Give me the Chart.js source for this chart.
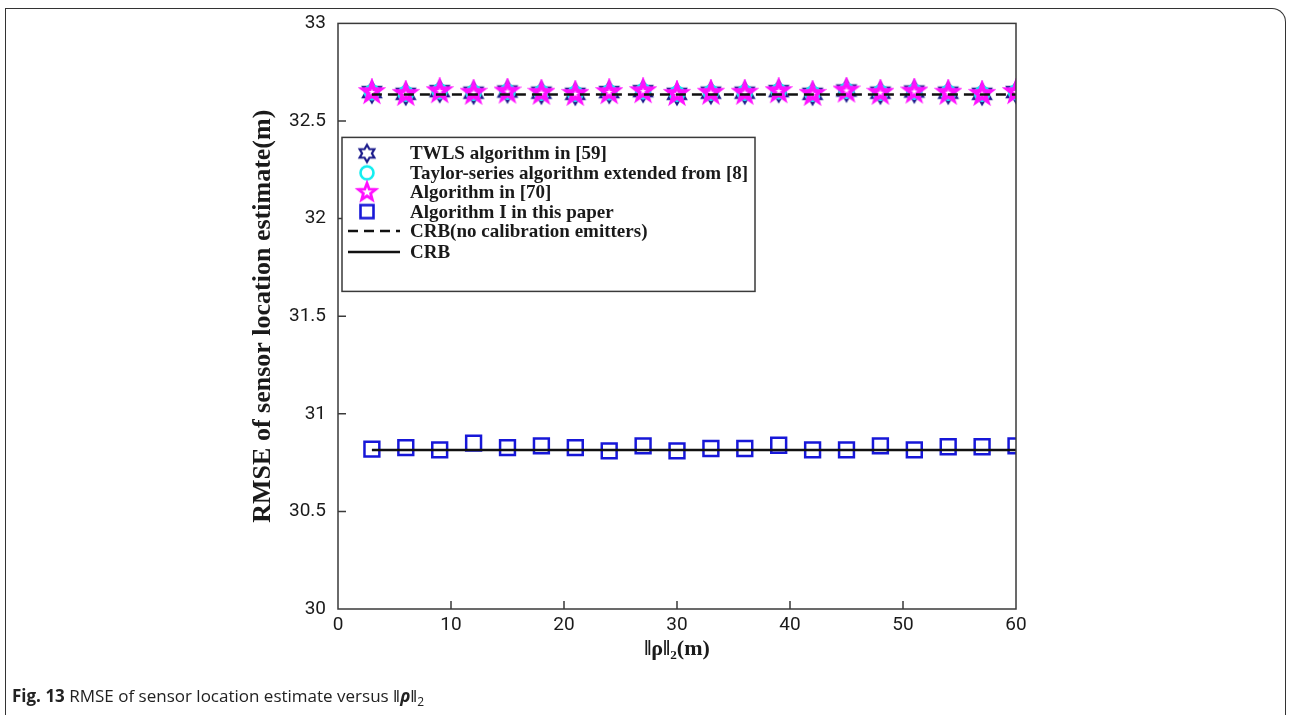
<!DOCTYPE html>
<html>
<head>
<meta charset="utf-8">
<script src="https://cdn.jsdelivr.net/npm/chart.js@4/dist/chart.umd.min.js"></script>
<style>
  html, body { margin: 0; padding: 0; background: #fff; }
  body { width: 1290px; height: 715px; position: relative; overflow: hidden; }
  #frame {
    position: absolute; left: 5px; top: 8px; width: 1281px; height: 720px;
    border: 1.5px solid #333; border-bottom: none;
    border-radius: 0 14px 0 14px; box-sizing: border-box;
  }
  #plot { position: absolute; left: 0; top: 0; }
  #caption {
    position: absolute; left: 12px; top: 684px;
    font-family: "Open Sans", sans-serif; font-size: 17px; color: #222;
  }
  #caption sub { font-size: 12px; }
</style>
</head>
<body>
<div id="frame"></div>
<canvas id="plot" width="1290" height="715"></canvas>
<div id="caption"><b>Fig. 13</b> RMSE of sensor location estimate versus &#8214;<b><i>&rho;</i></b>&#8214;<sub>2</sub></div>
<script>
// valores
const rhoNorm = [3, 6, 9, 12, 15, 18, 21, 24, 27, 30, 33, 36, 39, 42, 45, 48, 51, 54, 57, 60];
const twlsRmse = [32.648, 32.639, 32.653, 32.645, 32.651, 32.645, 32.639, 32.648, 32.653, 32.639,
                  32.645, 32.645, 32.653, 32.639, 32.656, 32.645, 32.651, 32.645, 32.639, 32.648];
const taylorRmse = [32.647, 32.640, 32.652, 32.645, 32.650, 32.645, 32.640, 32.647, 32.652, 32.640,
                    32.645, 32.645, 32.652, 32.640, 32.655, 32.645, 32.650, 32.645, 32.640, 32.647];
const alg70Rmse = [32.648, 32.639, 32.653, 32.645, 32.651, 32.645, 32.639, 32.648, 32.653, 32.639,
                   32.645, 32.645, 32.653, 32.639, 32.656, 32.645, 32.651, 32.645, 32.639, 32.648];
const algIRmse = [30.819, 30.827, 30.815, 30.850, 30.827, 30.836, 30.827, 30.810, 30.836, 30.810,
                  30.822, 30.822, 30.839, 30.815, 30.815, 30.836, 30.815, 30.831, 30.831, 30.836];
const crbNoCal = [32.636, 32.636, 32.636, 32.636, 32.636, 32.636, 32.636, 32.636, 32.636, 32.636,
                  32.636, 32.636, 32.636, 32.636, 32.636, 32.636, 32.636, 32.636, 32.636, 32.636];
const crbRmse = [30.815, 30.815, 30.815, 30.815, 30.815, 30.815, 30.815, 30.815, 30.815, 30.815,
                 30.815, 30.815, 30.815, 30.815, 30.815, 30.815, 30.815, 30.815, 30.815, 30.815];
const seriesNames = [
  'TWLS algorithm in [59]',
  'Taylor-series algorithm extended from [8]',
  'Algorithm in [70]',
  'Algorithm I in this paper',
  'CRB(no calibration emitters)',
  'CRB'
];

function pontos(ys) {
  return rhoNorm.map((x, i) => ({x: x, y: ys[i]}));
}

// marcadores estilo matlab (hexagrama / pentagrama)
function estrela(n, rOut, rIn, cor, lw) {
  const c = document.createElement('canvas');
  c.width = 28; c.height = 28;
  const g = c.getContext('2d');
  g.strokeStyle = cor;
  g.lineWidth = lw;
  g.beginPath();
  for (let k = 0; k < 2 * n; k++) {
    const a = -Math.PI / 2 + k * Math.PI / n;
    const r = k % 2 === 0 ? rOut : rIn;
    const px = 14 + r * Math.cos(a), py = 14 + r * Math.sin(a);
    if (k === 0) g.moveTo(px, py); else g.lineTo(px, py);
  }
  g.closePath();
  g.stroke();
  return c;
}
function anel(r, cor, lw) {
  const c = document.createElement('canvas');
  c.width = 28; c.height = 28;
  const g = c.getContext('2d');
  g.strokeStyle = cor; g.lineWidth = lw;
  g.beginPath(); g.arc(14, 14, r, 0, 2 * Math.PI); g.stroke();
  return c;
}
function quadrado(s, cor, lw) {
  const c = document.createElement('canvas');
  c.width = 28; c.height = 28;
  const g = c.getContext('2d');
  g.strokeStyle = cor; g.lineWidth = lw;
  g.strokeRect(14 - s / 2, 14 - s / 2, s, s);
  return c;
}
const corHex = '#1c1c8c', corCirc = '#12eef0', corPent = '#ff10ff', corQuad = '#1717d8';
const hexagrama = estrela(6, 10.5, 6.1, corHex, 2);
const pentagrama = estrela(5, 9.2, 3.6, corPent, 3.8);
const iconesLegenda = [
  estrela(6, 8.5, 4.9, corHex, 2.2),
  anel(6.5, corCirc, 2.6),
  estrela(5, 9, 3.8, corPent, 2.8),
  quadrado(13, corQuad, 2.6)
];

const fonteTick = {family: 'Roboto, "Liberation Sans Narrow", sans-serif', size: 19};
const serif = '"Liberation Serif", "Times New Roman", serif';

const moldura = {
  id: 'moldura',
  afterDraw(chart) {
    const {ctx, chartArea: a, scales} = chart;
    ctx.save();
    ctx.strokeStyle = '#3a3a3a';
    ctx.lineWidth = 1.5;
    ctx.beginPath();
    // ticks para dentro
    scales.x.ticks.forEach(t => {
      const px = scales.x.getPixelForValue(t.value);
      if (px <= a.left + 1 || px >= a.right - 1) return;
      ctx.moveTo(px, a.bottom); ctx.lineTo(px, a.bottom - 8);
    });
    scales.y.ticks.forEach(t => {
      const py = scales.y.getPixelForValue(t.value);
      if (py <= a.top + 1 || py >= a.bottom - 1) return;
      ctx.moveTo(a.left, py); ctx.lineTo(a.left + 8, py);
    });
    ctx.stroke();
    ctx.strokeRect(a.left, a.top, a.right - a.left, a.bottom - a.top);
    ctx.restore();
  }
};

const legenda = {
  id: 'legenda',
  afterDraw(chart) {
    const {ctx, chartArea: a} = chart;
    const bx = a.left + 4, by = a.top + 114, bw = 413, bh = 154;
    ctx.save();
    ctx.fillStyle = '#fff';
    ctx.fillRect(bx, by, bw, bh);
    ctx.strokeStyle = '#3a3a3a';
    ctx.lineWidth = 1.5;
    ctx.strokeRect(bx, by, bw, bh);
    ctx.font = 'bold 19px ' + serif;
    ctx.textBaseline = 'middle';
    chart.data.datasets.forEach((ds, i) => {
      const y = by + 16 + i * 19.4 + (i === 5 ? 1.5 : 0);
      const mx = bx + 25;
      if (ds.showLine) {
        ctx.strokeStyle = ds.borderColor;
        ctx.lineWidth = ds.borderWidth;
        ctx.setLineDash(ds.borderDash || []);
        ctx.beginPath();
        ctx.moveTo(bx + 6, y); ctx.lineTo(bx + 58, y);
        ctx.stroke();
        ctx.setLineDash([]);
      } else {
        ctx.drawImage(iconesLegenda[i], mx - 14, y - 14);
      }
      ctx.fillStyle = '#1a1a1a';
      ctx.fillText(ds.label, bx + 68, y + 1);
    });
    ctx.restore();
  }
};

new Chart(document.getElementById('plot'), {
  type: 'scatter',
  data: {
    datasets: [
      {label: seriesNames[0], data: pontos(twlsRmse), pointStyle: hexagrama, pointRadius: 11, order: 5},
      {label: seriesNames[1], data: pontos(taylorRmse), pointStyle: 'circle', pointRadius: 7,
       pointBorderColor: corCirc, pointBackgroundColor: 'rgba(0,0,0,0)', pointBorderWidth: 2.5, order: 4},
      {label: seriesNames[2], data: pontos(alg70Rmse), pointStyle: pentagrama, pointRadius: 11, order: 3},
      {label: seriesNames[3], data: pontos(algIRmse), pointStyle: 'rect', pointRadius: 10.5,
       pointBorderColor: corQuad, pointBackgroundColor: 'rgba(0,0,0,0)', pointBorderWidth: 2.5, order: 2},
      {label: seriesNames[4], data: pontos(crbNoCal), showLine: true, pointRadius: 0,
       borderColor: '#111', borderWidth: 2.5, borderDash: [10, 6], order: 1},
      {label: seriesNames[5], data: pontos(crbRmse), showLine: true, pointRadius: 0,
       borderColor: '#111', borderWidth: 2.5, order: 0}
    ]
  },
  options: {
    responsive: false,
    animation: false,
    layout: {padding: {left: 248, top: 23, right: 274, bottom: 38}},
    plugins: {legend: {display: false}, tooltip: {enabled: false}},
    scales: {
      x: {
        type: 'linear', min: 0, max: 60,
        ticks: {stepSize: 10, padding: 5, color: '#1a1a1a', font: fonteTick, maxRotation: 0},
        grid: {display: false, drawTicks: false},
        border: {display: false},
        title: {display: true, text: '\u2016\u03c1\u2016\u2082(m)', color: '#1a1a1a',
                font: {family: serif, weight: 'bold', size: 22}, padding: {top: 0, bottom: 14}},
        afterFit: s => { s.height = 68; }
      },
      y: {
        min: 30, max: 33,
        ticks: {stepSize: 0.5, padding: 12, color: '#1a1a1a', font: fonteTick,
                callback: v => String(Number(v.toFixed(2)))},
        grid: {display: false, drawTicks: false},
        border: {display: false},
        title: {display: true, text: 'RMSE of sensor location estimate(m)', color: '#1a1a1a',
                font: {family: serif, weight: 'bold', size: 26}, padding: {top: 0, bottom: 0}},
        afterFit: s => { s.width = 90; }
      }
    }
  },
  plugins: [moldura, legenda]
});
</script>
</body>
</html>
